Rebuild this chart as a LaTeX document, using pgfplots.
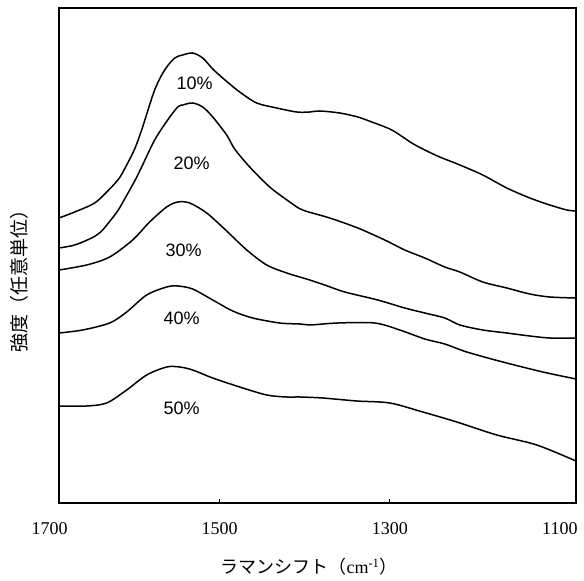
\documentclass[border=0pt]{standalone}
\usepackage{pgfplots}
\pgfplotsset{compat=1.18}
\usepackage{fontspec}
\setmainfont{Liberation Serif}
\newfontfamily\cjk{Noto Sans CJK JP}
\newfontfamily\hv{Liberation Sans}

\begin{document}
\begin{tikzpicture}
\useasboundingbox (-59pt,-78pt) rectangle (525pt,503pt);
\begin{axis}[
  scale only axis,
  width=517pt, height=495pt,
  x dir=reverse,
  xmin=1081, xmax=1689,
  ymin=0, ymax=495,
  axis line style={line width=1.8pt},
  xtick={1500,1300},
  xticklabels={},
  xtick pos=lower,
  tick align=inside,
  major tick length=4pt,
  xtick style={line width=0.8pt, black},
  ytick=\empty,
  clip=false,
  curve/.style={black, line width=1.5pt, smooth, tension=0.5, mark=none},
]
% 10%
\addplot[curve] coordinates {
(1689,285) (1670.6,291) (1647.1,300) (1629.4,314) (1618,325) (1609.4,338)
(1600,354) (1591.8,373) (1576.5,413) (1564.7,433) (1552.9,445) (1543.5,448)
(1531.8,450) (1520.0,445) (1508.2,434) (1496.5,425) (1488.2,419) (1476.5,411)
(1456.5,400) (1432.9,395) (1409.4,391) (1394.1,391) (1382.4,392) (1358.8,390)
(1337.6,386) (1321.2,381) (1297.6,373) (1274.1,360) (1258.8,353) (1241.2,346)
(1217.6,338) (1190.6,328) (1162.4,315) (1135.3,305) (1111.8,298) (1091.8,293)
(1081,292)
};
% 20%
\addplot[curve] coordinates {
(1689,255) (1670.6,258) (1650.6,265) (1640,271) (1631.8,279) (1620,292)
(1611.8,304) (1600,322) (1591.8,336) (1576.5,363) (1561.2,383) (1549.4,396)
(1543.5,398) (1531.8,400) (1520.0,396) (1508.2,386) (1491.8,368) (1482.4,354)
(1464.7,336) (1441.2,316) (1417.6,301) (1402.4,293) (1370.6,285) (1337.6,275)
(1305.9,263) (1282.4,253) (1258.8,245) (1235.3,236) (1217.6,231) (1190.6,221)
(1162.4,215) (1135.3,209) (1111.8,206) (1081,205)
};
% 30%
\addplot[curve] coordinates {
(1689,233) (1656.5,238) (1629.4,246) (1602.4,263) (1582.4,281) (1562.4,296)
(1549.4,301) (1535.3,300) (1515.3,290) (1491.8,272) (1468.2,253) (1444.7,238)
(1421.2,230) (1405.9,226) (1394.1,223) (1376.5,218) (1352.9,211) (1314.1,203)
(1282.4,195) (1258.8,190) (1235.3,185) (1217.6,178) (1190.6,173) (1162.4,170)
(1135.3,167) (1111.8,165) (1081,165)
};
% 40%
\addplot[curve] coordinates {
(1689,170) (1661.2,173) (1629.4,180) (1609.4,191) (1585.9,208) (1562.4,216)
(1549.4,217) (1531.8,214) (1508.2,203) (1484.7,192) (1461.2,185) (1429.4,180)
(1405.9,179) (1394.1,178) (1361.2,180) (1317.6,180) (1288.2,173) (1258.8,164)
(1235.3,159) (1209.4,151) (1167.1,141) (1120.0,131) (1081,124)
};
% 50%
\addplot[curve] coordinates {
(1689,97) (1656.5,97) (1632.9,100) (1609.4,113) (1585.9,128) (1562.4,136)
(1547.1,136) (1531.8,133) (1508.2,125) (1476.5,116) (1444.7,108) (1421.2,106)
(1405.9,106) (1378.8,105) (1338.8,102) (1300.0,100) (1261.2,91) (1221.2,81)
(1174.1,68) (1127.1,58) (1081,42)
};

% curve labels
\begin{scope}[every node/.style={font=\hv\fontsize{18}{21}\selectfont}]
\node at (axis cs:1529.4,420) {10\%};
\node at (axis cs:1532.9,340) {20\%};
\node at (axis cs:1542.4,253) {30\%};
\node at (axis cs:1544.7,185) {40\%};
\node at (axis cs:1544.7,95) {50\%};
\end{scope}

% wavenumber labels
\begin{scope}[every node/.style={font=\fontsize{18}{21}\selectfont, yshift=-26pt}]
\node at (axis cs:1700,0) {1700};
\node at (axis cs:1500,0) {1500};
\node at (axis cs:1300,0) {1300};
\node at (axis cs:1100,0) {1100};
\end{scope}

\node[font=\fontsize{18}{21}\selectfont, yshift=-64pt] at (rel axis cs:0.4836,0)
  {{\cjk ラマンシフト（}cm\textsuperscript{-1}{\cjk ）}};
\path (rel axis cs:0,0.4566) ++(-40pt,0pt)
  node[font=\cjk\fontsize{19}{22}\selectfont, rotate=90] {強度（任意単位）};
\end{axis}
\end{tikzpicture}
\end{document}
